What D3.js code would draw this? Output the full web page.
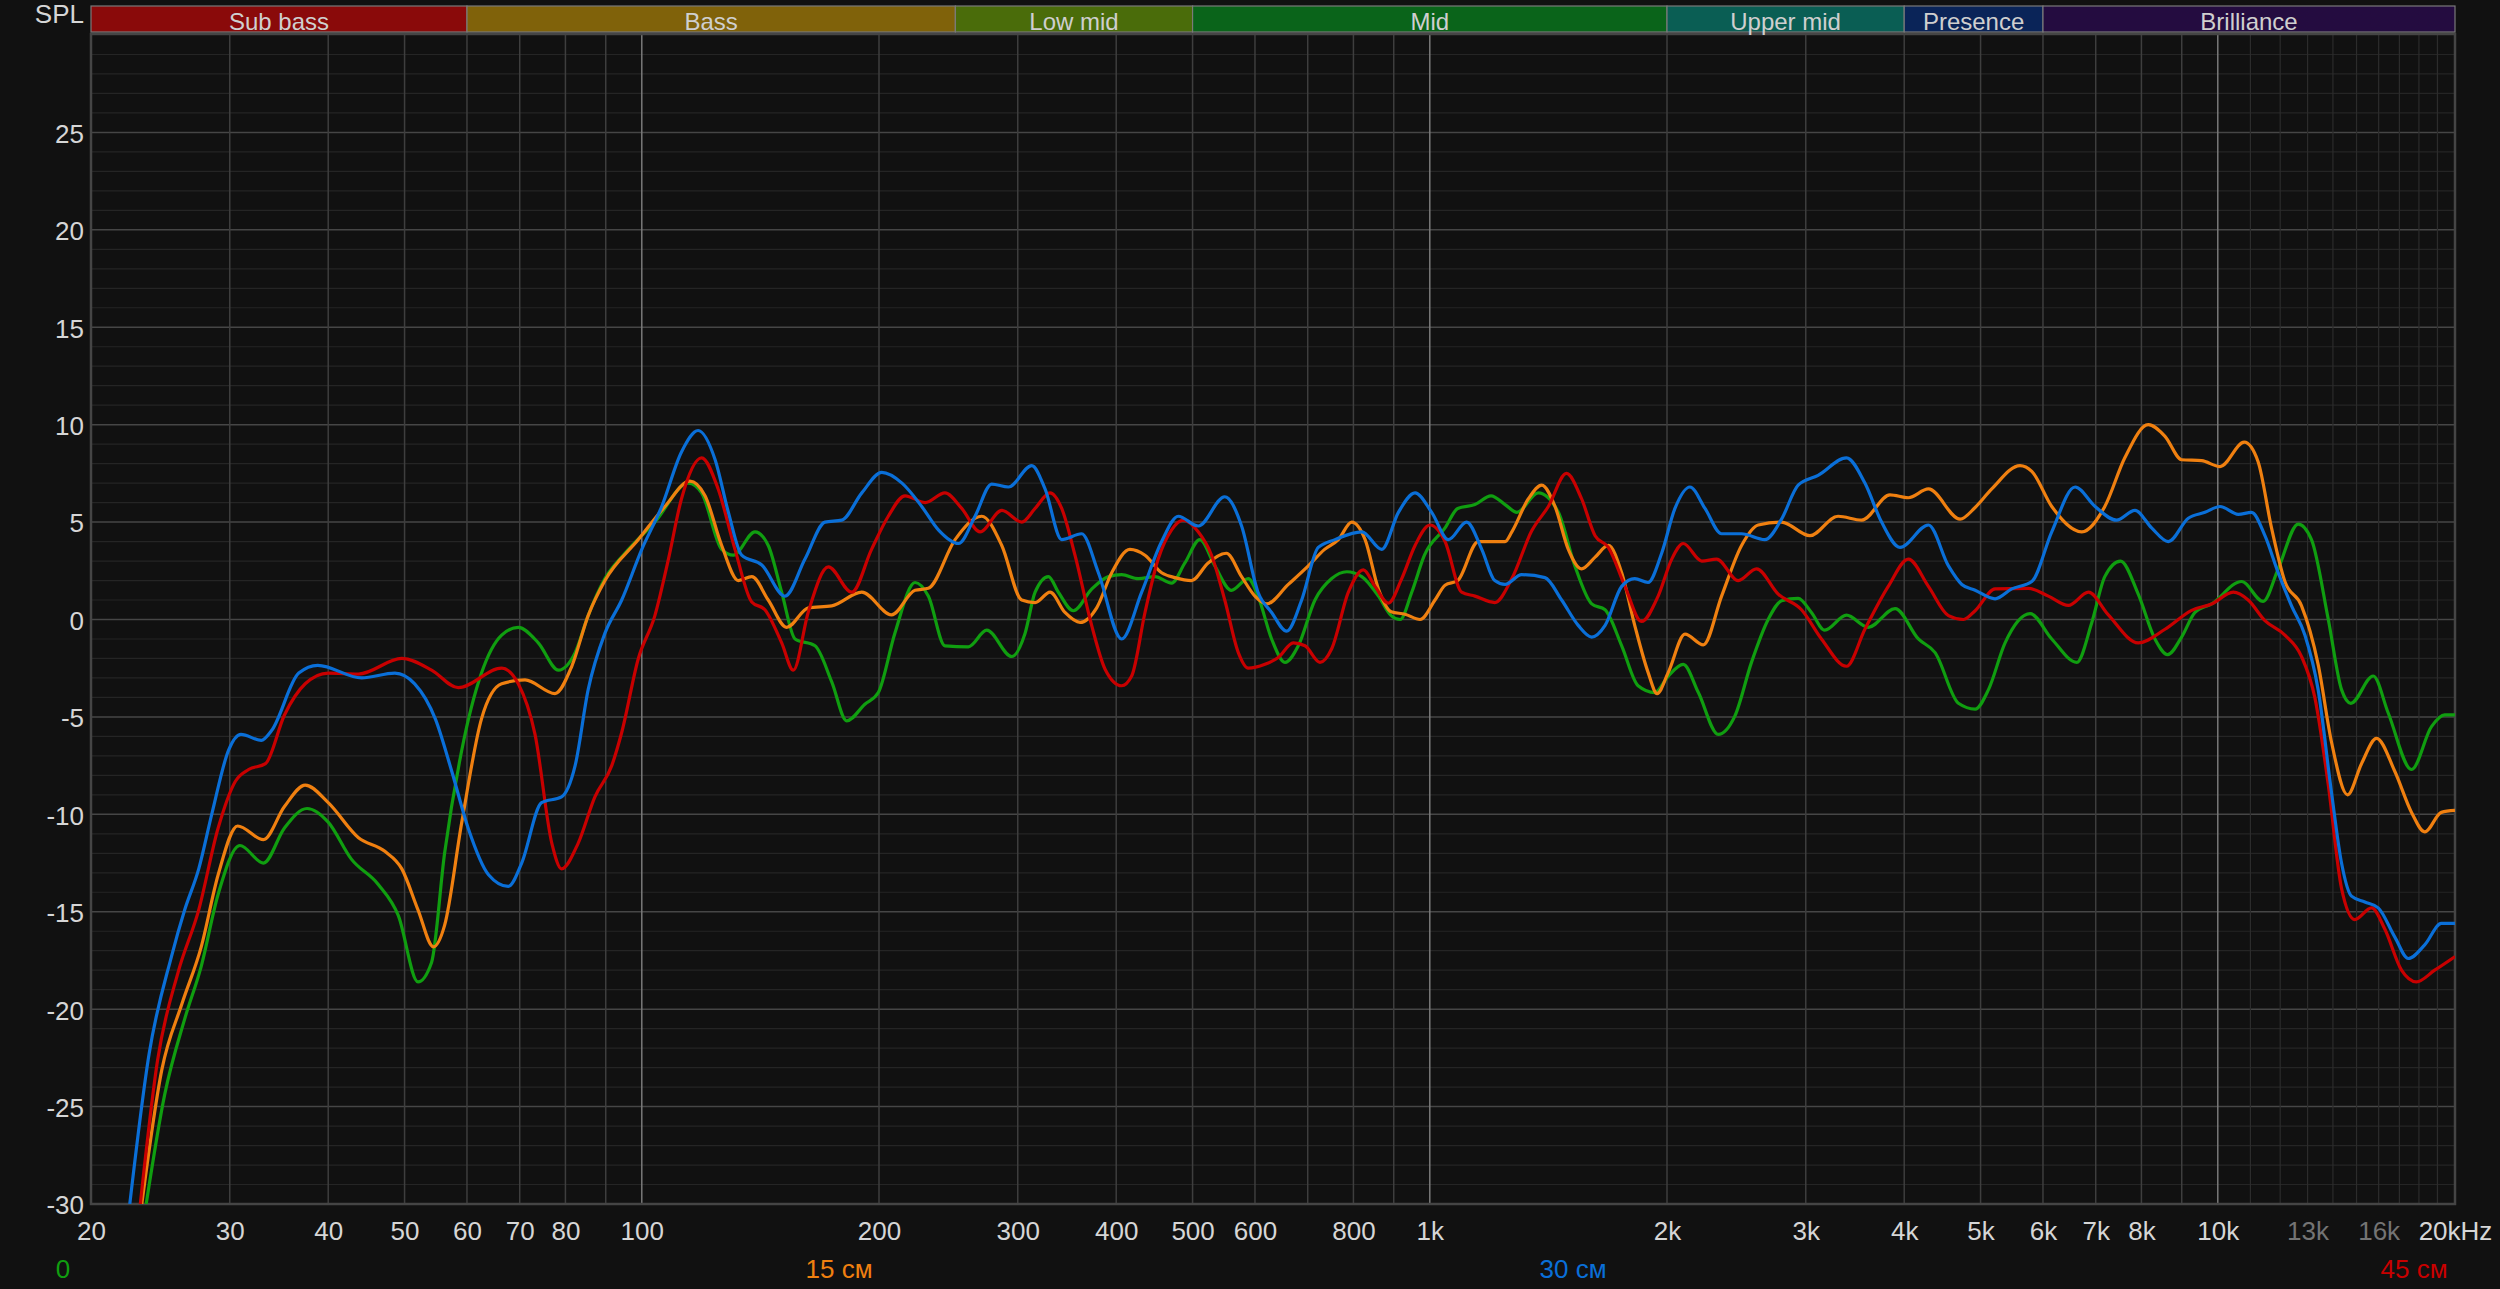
<!DOCTYPE html>
<html><head><meta charset="utf-8">
<script src="https://cdn.jsdelivr.net/npm/d3@7"></script>
<style>html,body{margin:0;padding:0;background:#111;} svg{display:block;}</style>
</head><body>
<svg id="chart" width="2500" height="1289"></svg>
<script>
// ---------- data ----------
const seriesNames = ["0", "15 см", "30 см", "45 см"];
const seriesColors = ["#109e10", "#f08010", "#0a6fd8", "#c80000"];

const greenFreq = [23.5,24.8,26.3,27.6,29.0,30.9,33.1,35.2,37.6,40,42.8,46.3,49.1,52.0,54.1,56.2,59.1,62.6,66.4,69.7,73.9,78.4,82.3,85.5,89.8,95.2,103.9,114.6,119.1,126.3,130.7,139.2,144.7,150.5,156.5,165.9,174.2,182,191.9,199.6,209.5,222.2,231,242.5,259.7,274,294.8,306.5,315.6,328.1,337.8,352.9,372.3,391,406.4,426.7,448,470.3,488.9,510.8,533.6,560.1,588.3,605.4,629.9,655,681,715,750.8,784.5,819.7,860.7,893.3,916.9,948.7,984.5,1045.6,1085,1141,1196,1246,1290,1373,1456,1528,1605,1669,1752,1838,1930,2008,2097,2192,2323,2439,2560,2688,2795,2934,3050,3171,3379,3601,3895,4169,4378,4687,4921,5117,5371,5779,6156,6623,6919,7188,7525,7926,8322,8637,8997,9355,9822,10720,11416,11931,12650,13150,13806,14356,14752,15750,16455,17615,18671,19408,20000];
const greenDb = [-30,-24.4,-20.5,-17.8,-14.1,-11.6,-12.5,-10.7,-9.7,-10.4,-12.3,-13.6,-15.2,-18.6,-17.6,-12.0,-6.7,-2.75,-0.8,-0.4,-1.2,-2.6,-1.7,0.2,2.1,3.4,5.0,7.0,6.5,3.6,3.3,4.5,3.8,1.4,-1.0,-1.35,-3.2,-5.2,-4.35,-3.75,-0.7,1.9,1.2,-1.35,-1.4,-0.55,-1.9,-0.7,1.4,2.2,1.4,0.45,1.56,2.2,2.3,2.1,2.2,1.87,2.9,4.1,2.75,1.5,2.1,1.2,-1.0,-2.2,-1.35,1.0,2.1,2.45,2.2,1.2,0.2,0.0,1.4,3.3,4.7,5.7,5.9,6.35,5.9,5.5,6.5,5.5,2.75,0.8,0.5,-1.35,-3.4,-3.75,-2.9,-2.3,-3.75,-5.9,-4.95,-2.2,0.0,0.96,1.08,0.36,-0.55,0.22,-0.4,0.56,-1.0,-1.7,-4.3,-4.6,-3.6,-1.2,0.3,-1.0,-2.2,-0.17,2.2,3.0,1.3,-1.0,-1.8,-0.9,0.36,0.8,1.95,0.93,2.6,4.9,4.1,0.04,-3.6,-4.3,-2.9,-4.8,-7.7,-5.5,-4.9,-4.9];

const orangeFreq = [23.2,24.6,26.1,27.6,29.0,30.7,33.1,35.2,37.4,40,43.7,47.2,49.6,52.0,54.4,56.2,59.1,62.6,66.4,71.1,77.6,81.5,85.5,89.8,99,107,115.1,120.3,126.3,132.6,137.9,144.7,152.7,162.7,174.2,190.2,207.5,222.2,231,249.8,270,286.3,303.5,315.6,329.7,344.4,359.9,377.8,394.8,416.4,435.1,456.8,474.9,498.4,523.3,551.9,577,599.9,620.8,661.4,701.2,735.4,765.6,796,827.8,860.7,893.3,930.3,972,1015.4,1045.6,1085,1152,1246,1271,1334,1387,1442,1499,1558,1621,1685,1752,1820,1892,1943,2008,2108,2224,2346,2487,2611,2795,3036,3297,3533,3837,4049,4293,4710,4921,5166,5612,5807,6156,6720,7188,7621,8162,8571,8997,9540,10065,10804,11250,11700,12166,12773,13407,13943,14609,15219,15903,16777,17615,18306,19219,20000];
const orangeDb = [-30,-23.1,-19.7,-16.8,-13.1,-10.6,-11.3,-9.6,-8.5,-9.4,-11.2,-11.9,-12.8,-14.9,-16.8,-15.7,-10.4,-5.1,-3.3,-3.1,-3.8,-2.4,0.2,2.0,4.1,5.8,7.1,6.35,3.8,2.0,2.2,1.0,-0.4,0.6,0.7,1.4,0.24,1.5,1.6,4.1,5.3,3.8,1.0,0.87,1.4,0.36,-0.15,0.6,2.4,3.6,3.3,2.4,2.15,2.0,2.9,3.4,2.2,1.2,0.8,1.8,2.75,3.6,4.1,5.0,4.1,1.56,0.4,0.27,0.0,1.0,1.76,2.0,4.0,4.0,4.5,6.2,6.9,5.8,3.6,2.6,3.2,3.8,2.4,-0.3,-2.7,-3.8,-2.7,-0.75,-1.3,1.2,3.8,4.85,5.0,4.3,5.3,5.1,6.4,6.25,6.7,5.15,5.75,6.7,7.9,7.6,5.8,4.5,5.8,8.3,10.0,9.4,8.2,8.15,7.85,9.1,8.1,4.7,1.95,0.7,-2.3,-6.3,-9.0,-7.4,-6.1,-7.8,-9.9,-10.9,-9.9,-9.8];

const blueFreq = [22.4,23.7,25.3,26.3,27.4,28.5,29.9,31.0,32.9,33.9,36.7,38.8,44.1,48.6,51.5,54.7,57.4,60.2,63.9,67.7,70.4,74.6,79.1,82.3,85.5,89.8,94.3,100,106,112.3,117.9,123.9,128.8,133.9,142,152,161.1,170.8,179.4,190.2,201.6,213.9,226.6,237.9,252.3,264.8,278,291.9,312.5,324.9,341.1,361.6,379.7,406.4,430.9,456.8,479.5,508.3,549.3,577,605.4,629.9,658.2,687.7,721.9,758.1,819.7,869,912.4,957.9,1005.6,1055.8,1113.6,1164,1209,1246,1308,1400,1470,1543,1605,1669,1752,1820,1892,1969,2047,2139,2235,2346,2487,2662,2795,2934,3110,3379,3566,3744,3951,4293,4552,4733,4921,5217,5477,5807,6156,6591,6987,7437,7850,8242,8653,9175,9632,10065,10617,11036,11477,11931,12405,12898,13407,13943,14356,14780,15368,15980,16777,17445,18306,19219,20000];
const blueDb = [-30,-22.3,-17.3,-14.9,-12.8,-9.9,-6.7,-5.9,-6.2,-5.7,-2.75,-2.35,-3.0,-2.75,-3.3,-5.1,-7.8,-10.7,-13.1,-13.7,-12.5,-9.4,-9.1,-7.5,-3.6,-0.7,1.0,3.6,5.8,8.6,9.7,8.2,5.5,3.3,2.8,1.2,3.1,5.0,5.1,6.5,7.55,7.0,5.8,4.6,3.9,5.3,6.95,6.8,7.9,6.7,4.1,4.4,2.4,-1.0,1.4,4.0,5.3,4.8,6.3,4.8,1.4,0.36,-0.6,1.0,3.7,4.1,4.5,3.6,5.5,6.5,5.5,4.1,5.0,3.6,2.0,1.8,2.3,2.15,1.0,-0.3,-0.9,-0.3,1.7,2.1,1.9,3.4,5.7,6.8,5.7,4.4,4.4,4.1,5.15,6.9,7.4,8.3,7.0,5.0,3.7,4.85,2.75,1.8,1.5,1.06,1.57,1.95,4.5,6.8,5.8,5.1,5.6,4.7,4.0,5.2,5.5,5.8,5.4,5.5,4.3,2.4,0.7,-0.8,-3.6,-8.9,-12.5,-14.2,-14.5,-14.8,-16.3,-17.4,-16.7,-15.6,-15.6];

const redFreq = [23.1,24.3,25.8,27.4,29.0,30.5,31.7,33.3,35.2,37.4,40,43.7,49.6,54.1,58.5,66.4,69.7,73.2,76.9,79.1,83,87.2,91.6,94.3,99,103.9,108.1,112.3,119.1,125,131.3,137.9,143.3,150.5,155.7,162.7,172.5,184.7,195.7,205.5,215.8,228.8,242.5,254.7,268.7,286.3,303.5,315.6,329.7,341.1,354.6,372.3,387.2,406.4,418.5,435.1,452.2,470.3,486.6,508.3,528.5,549.3,571.5,588.3,617.7,642.3,671.1,694.4,725.5,750.8,788.3,823.7,852.2,886.1,921.3,957.9,1000.7,1045.6,1097.5,1141,1209,1271,1347,1414,1491,1558,1621,1685,1769,1856,1949,2028,2097,2214,2312,2463,2598,2768,2963,3141,3379,3566,3818,4049,4293,4552,4756,4921,5217,5751,6096,6463,6853,7258,7926,8571,9265,9822,10463,10928,11477,12166,12773,13278,13806,14356,14924,15674,16295,17107,17866,18848,20000];
const redDb = [-30,-22.6,-18.1,-14.9,-10.7,-8.3,-7.7,-7.4,-4.9,-3.3,-2.75,-2.8,-2.0,-2.6,-3.5,-2.5,-3.3,-5.9,-11.5,-12.8,-11.5,-9.1,-7.5,-5.8,-2.0,0.2,3.1,6.2,8.3,6.7,3.6,0.9,0.5,-1.2,-2.6,0.4,2.7,1.4,3.6,5.3,6.35,6.0,6.5,5.7,4.5,5.6,5.0,5.7,6.5,5.7,3.3,-0.3,-2.55,-3.4,-2.9,0.36,3.1,4.6,5.1,4.5,3.3,1.0,-1.7,-2.5,-2.3,-1.95,-1.2,-1.35,-2.2,-1.5,1.4,2.55,1.7,0.84,2.1,3.8,4.85,4.0,1.4,1.2,0.87,2.1,4.55,5.8,7.5,6.2,4.3,3.7,1.7,-0.1,1.2,3.1,3.9,3.0,3.1,2.0,2.6,1.3,0.5,-1.0,-2.4,-0.5,1.7,3.1,1.7,0.2,0.0,0.45,1.57,1.6,1.2,0.72,1.4,0.25,-1.2,-0.5,0.47,0.8,1.4,1.0,-0.06,-0.8,-1.9,-4.0,-8.45,-13.8,-15.4,-14.8,-15.9,-18.0,-18.6,-18.0,-17.3];

const bandNames = ["Sub bass","Bass","Low mid","Mid","Upper mid","Presence","Brilliance"];
const bandLo = [20, 60, 250, 500, 2000, 4000, 6000];
const bandHi = [60, 250, 500, 2000, 4000, 6000, 20000];
const bandColors = ["#8a0a0a","#80620a","#4a6c0a","#0a641a","#0a5e54","#0a2458","#240c40"];

const xTickValues = [20,30,40,50,60,70,80,100,200,300,400,500,600,800,1000,2000,3000,4000,5000,6000,7000,8000,10000,13000,16000,20000];
const xTickLabels = ["20","30","40","50","60","70","80","100","200","300","400","500","600","800","1k","2k","3k","4k","5k","6k","7k","8k","10k","13k","16k","20kHz"];
const yTickValues = [-30,-25,-20,-15,-10,-5,0,5,10,15,20,25];
const legendCenters = [63, 839, 1573, 2414];

// ---------- layout ----------
const W = 2500, H = 1289, L = 91, R = 2455, T = 35, B = 1204;
const FONT = "'Liberation Sans', Arial, sans-serif";
const svg = d3.select('#chart');
svg.append('rect').attr('width', W).attr('height', H).attr('fill', '#111111');

const x = d3.scaleLog().domain([20, 20000]).range([L, R]);
const y = d3.scaleLinear().domain([-30, 30]).range([B, T]);

// grid
const grid = svg.append('g');
const minorY = d3.range(-29, 30).filter(v => v % 5 !== 0);
grid.selectAll('.hmin').data(minorY).enter().append('line')
  .attr('x1', L).attr('x2', R).attr('y1', d => y(d)).attr('y2', d => y(d))
  .attr('stroke', '#252525').attr('stroke-width', 1.2);
grid.selectAll('.hmaj').data(d3.range(-25, 30, 5)).enter().append('line')
  .attr('x1', L).attr('x2', R).attr('y1', d => y(d)).attr('y2', d => y(d))
  .attr('stroke', '#464646').attr('stroke-width', 1.5);

const vDim = d3.range(11000, 20000, 1000);
const vReg = [].concat(d3.range(30, 100, 10), d3.range(200, 1000, 100), d3.range(2000, 10000, 1000));
const vBright = [100, 1000, 10000];
grid.selectAll('.vdim').data(vDim).enter().append('line')
  .attr('x1', d => x(d)).attr('x2', d => x(d)).attr('y1', T).attr('y2', B)
  .attr('stroke', '#2c2c2c').attr('stroke-width', 1.2);
grid.selectAll('.vreg').data(vReg).enter().append('line')
  .attr('x1', d => x(d)).attr('x2', d => x(d)).attr('y1', T).attr('y2', B)
  .attr('stroke', '#3e3e3e').attr('stroke-width', 1.5);
grid.selectAll('.vbr').data(vBright).enter().append('line')
  .attr('x1', d => x(d)).attr('x2', d => x(d)).attr('y1', T).attr('y2', B)
  .attr('stroke', '#7a7a7a').attr('stroke-width', 1.5);

// plot frame
svg.append('rect').attr('x', L).attr('y', T - 1).attr('width', R - L).attr('height', B - T + 1)
  .attr('fill', 'none').attr('stroke', '#454545').attr('stroke-width', 2.5);

// bands
const bands = svg.append('g');
bandNames.forEach((n, i) => {
  const x0 = x(bandLo[i]), x1 = x(bandHi[i]);
  bands.append('rect').attr('x', x0).attr('y', 6).attr('width', x1 - x0).attr('height', 26)
    .attr('fill', bandColors[i]).attr('stroke', '#7a7a7a').attr('stroke-width', 1.2);
  bands.append('text').attr('x', (x0 + x1) / 2).attr('y', 29.5).attr('text-anchor', 'middle')
    .attr('font-family', FONT).attr('font-size', 24).attr('fill', '#cfcfcf').text(n);
});

// axes
const yAxis = d3.axisLeft(y).tickValues(yTickValues).tickSize(0).tickPadding(7).tickFormat(d => String(d));
const ya = svg.append('g').attr('transform', `translate(${L},0)`).call(yAxis);
ya.select('.domain').remove();
ya.selectAll('text').attr('font-family', FONT).attr('font-size', 26).attr('fill', '#d6d6d6').attr('dy', '0.38em');

const xAxis = d3.axisBottom(x).tickValues(xTickValues).tickSize(0).tickPadding(17.5)
  .tickFormat((d, i) => xTickLabels[i]);
const xa = svg.append('g').attr('transform', `translate(0,${B})`).call(xAxis);
xa.select('.domain').remove();
xa.selectAll('text').attr('font-family', FONT).attr('font-size', 26)
  .attr('fill', d => (d === 13000 || d === 16000) ? '#747474' : '#d6d6d6');

svg.append('text').attr('x', 84).attr('y', 23).attr('text-anchor', 'end')
  .attr('font-family', FONT).attr('font-size', 26).attr('fill', '#d6d6d6').text('SPL');

// curves
svg.append('clipPath').attr('id', 'clip').append('rect')
  .attr('x', L).attr('y', T).attr('width', R - L).attr('height', B - T);
const line = d3.line().x(d => x(d[0])).y(d => y(d[1])).curve(d3.curveMonotoneX);
const series = [
  {f: greenFreq, v: greenDb, c: seriesColors[0]},
  {f: orangeFreq, v: orangeDb, c: seriesColors[1]},
  {f: redFreq, v: redDb, c: seriesColors[3]},
  {f: blueFreq, v: blueDb, c: seriesColors[2]}
];
const cg = svg.append('g').attr('clip-path', 'url(#clip)');
series.forEach(s => {
  const pts = d3.zip(s.f, s.v);
  cg.append('path').datum(pts).attr('d', line).attr('fill', 'none')
    .attr('stroke', s.c).attr('stroke-width', 3.2).attr('stroke-linejoin', 'round');
});

// legend
seriesNames.forEach((n, i) => {
  svg.append('text').attr('x', legendCenters[i]).attr('y', 1278).attr('text-anchor', 'middle')
    .attr('font-family', FONT).attr('font-size', 26).attr('fill', seriesColors[i]).text(n);
});
</script>
</body></html>
